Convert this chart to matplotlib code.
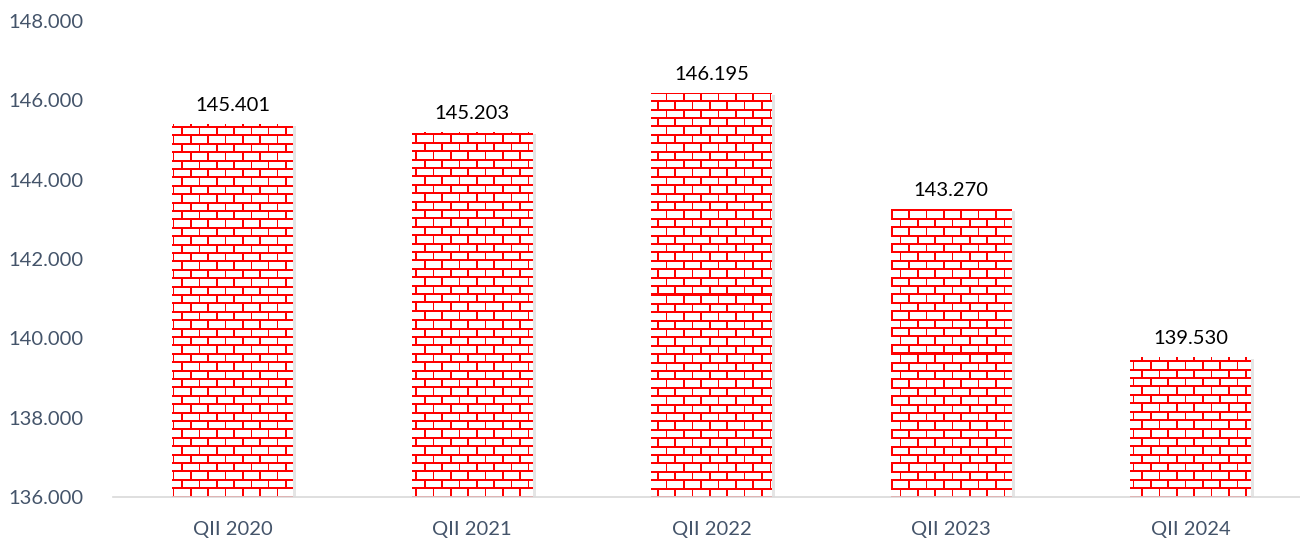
import numpy as np
import matplotlib
matplotlib.use("Agg")
import matplotlib.pyplot as plt
from matplotlib.patches import Rectangle

quarters = ["QII 2020", "QII 2021", "QII 2022", "QII 2023", "QII 2024"]
values = [145.401, 145.203, 146.195, 143.270, 139.530]
value_labels = ["145.401", "145.203", "146.195", "143.270", "139.530"]
y_ticks = [136, 138, 140, 142, 144, 146, 148]
y_tick_labels = ["136.000", "138.000", "140.000", "142.000", "144.000", "146.000", "148.000"]

plt.rcParams['font.family'] = ['Lato', 'DejaVu Sans']
label_col = "#44546A"


# Crea una texture a mattoncini in coordinate pixel assolute (come il pattern di Excel).
def brick_texture(x0, y0, w, h, bw=17.3, bh=8.4, lw_h=2.0, lw_v=1.6):
    xs = x0 + np.arange(w) + 0.5
    ys = y0 + np.arange(h) + 0.5
    X, Y = np.meshgrid(xs, ys)
    row = np.floor(Y / bh)
    hline = (Y % bh) < lw_h
    shift = (row % 2) * bw / 2
    vline = ((X + shift) % bw) < lw_v
    mask = hline | vline
    img = np.ones((h, w, 3))
    img[mask] = [1.0, 0.0, 0.0]
    return img


fig = plt.figure(figsize=(13, 5.4), dpi=100)
W, H = 1300, 540
ax = fig.add_axes([113 / W, 43 / H, 1187 / W, 476 / H])
ax.set_xlim(-0.5, 4.456)
ax.set_ylim(136, 148)

x = np.arange(len(quarters))
bars = ax.bar(x, [v - 136 for v in values], bottom=136, width=0.505,
              color="none", edgecolor="none", zorder=2)

fig.canvas.draw()
for b in bars:
    bx, by = b.get_x(), b.get_y()
    bwid, bhei = b.get_width(), b.get_height()
    (px0, py0), (px1, py1) = ax.transData.transform([(bx, by), (bx + bwid, by + bhei)])
    w = int(round(px1 - px0))
    h = int(round(py1 - py0))
    top = H - py1  # y dall'alto
    img = brick_texture(px0, top, w, h)
    # ombra leggera
    sh = Rectangle((bx + 0.012, by), bwid, bhei - 0.06, facecolor="#000000", alpha=0.10,
                   edgecolor="none", zorder=1.5)
    ax.add_patch(sh)
    im = ax.imshow(img, extent=(bx, bx + bwid, by, by + bhei), aspect="auto",
                   interpolation="nearest", zorder=2.5)
    im.set_clip_path(b)

for xi, v, lab in zip(x, values, value_labels):
    ax.annotate(lab, (xi, v), xytext=(0, 7), textcoords="offset points",
                ha="center", va="bottom", fontsize=14.5, color="black")

ax.set_xticks(x)
ax.set_xticklabels(quarters, fontsize=14.5, color=label_col)
ax.set_yticks(y_ticks)
ax.set_yticklabels(y_tick_labels, fontsize=14.5, color=label_col)
ax.tick_params(axis="both", length=0)
ax.tick_params(axis="y", pad=21)
ax.tick_params(axis="x", pad=17)
for s in ["top", "right", "left"]:
    ax.spines[s].set_visible(False)
ax.spines["bottom"].set_color("#D9D9D9")
ax.spines["bottom"].set_linewidth(1.2)
ax.spines["bottom"].set_zorder(3)

fig.savefig("out.png", dpi=100)
